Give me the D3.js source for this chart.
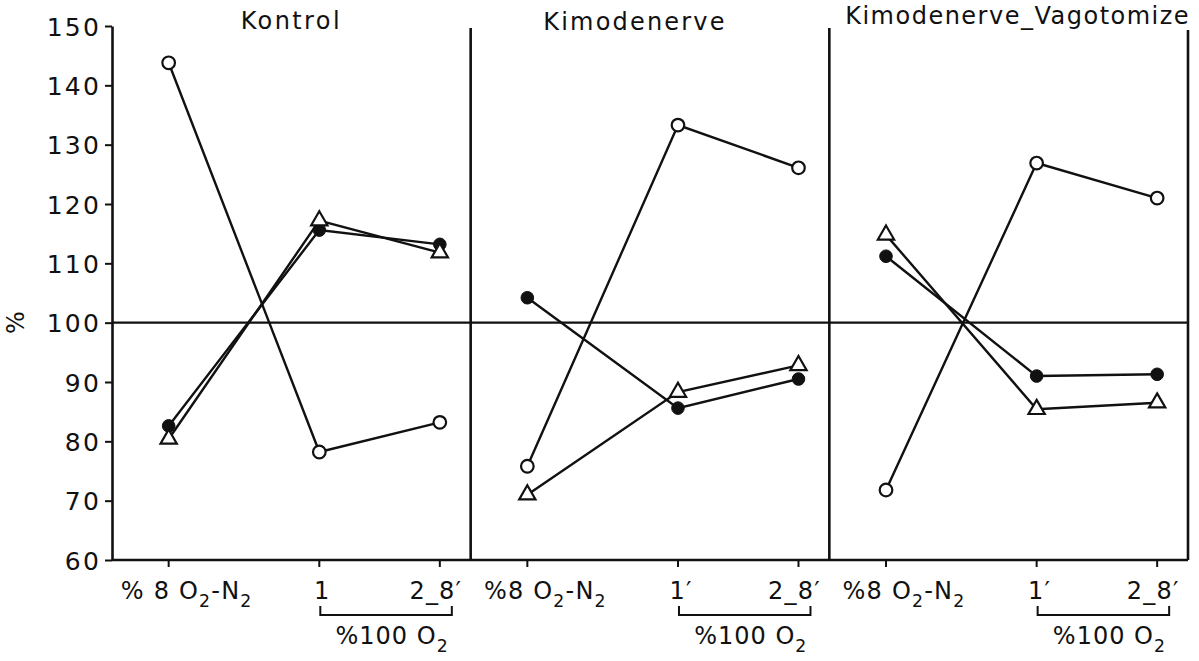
<!DOCTYPE html>
<html><head><meta charset="utf-8">
<script src="https://cdn.jsdelivr.net/npm/d3@7"></script>
<style>body{margin:0;background:#fff}svg{display:block}text{font-family:"DejaVu Sans",sans-serif;fill:#111}</style>
</head><body>
<script>
const panels = ["Kontrol", "Kimodenerve", "Kimodenerve_Vagotomize"];
const categories = ["pre", "t1", "t2"];
const tickLabels = [
  ["% 8 O|2|-N|2", "1", "2_8′"],
  ["%8 O|2|-N|2", "1′", "2_8′"],
  ["%8 O|2|-N|2", "1′", "2_8′"]
];
const bracketLabel = "%100 O|2";
const openCircle   = [[143.8, 78.2, 83.2], [75.8, 133.3, 126.1], [71.8, 126.9, 121.0]];
const filledCircle = [[82.6, 115.6, 113.2], [104.2, 85.6, 90.5], [111.2, 91.0, 91.3]];
const triangle     = [[80.4, 117.2, 111.8], [71.0, 88.3, 92.8], [114.8, 85.4, 86.5]];
const yTicks = [60, 70, 80, 90, 100, 110, 120, 130, 140, 150];
const refValue = 100;

const W = 1199, H = 661;
const svg = d3.select("body").append("svg").attr("width", W).attr("height", H);
const x0 = d3.scaleBand().domain(panels).range([112, 1188]).padding(0);
const xi = d3.scaleOrdinal().domain(categories).range([0.158, 0.578, 0.914]);
const y = d3.scaleLinear().domain([60, 150]).range([560, 26]);
const X = (p, c) => x0(p) + xi(c) * x0.bandwidth();

function richText(sel, str, size) {
  const parts = str.split("|");
  parts.forEach((s, i) => {
    const sub = i % 2 === 1;
    sel.append("tspan").text(s)
      .attr("font-size", sub ? size * 0.72 : size)
      .attr("dy", sub ? size * 0.32 : (i > 0 ? -size * 0.32 : 0));
  });
}

// y axis
const yAxis = d3.axisLeft(y).tickValues(yTicks).tickSize(7).tickSizeOuter(0);
const ga = svg.append("g").attr("transform", "translate(112,0)").call(yAxis);
ga.select(".domain").attr("stroke", "#111").attr("stroke-width", 2.6);
ga.selectAll(".tick line").attr("stroke", "#111").attr("stroke-width", 2);
ga.selectAll(".tick text").attr("font-size", 25).attr("x", -11).attr("fill", "#111")
  .attr("letter-spacing", 2.2).attr("dy", "0.36em")
  .attr("font-family", "DejaVu Sans, sans-serif");

svg.append("text").attr("transform", `translate(24,${y(100)}) rotate(-90)`)
  .attr("text-anchor", "middle").attr("font-size", 24).text("%");

// frame
svg.append("line").attr("x1", 112).attr("x2", 1188).attr("y1", y(60)).attr("y2", y(60))
  .attr("stroke", "#111").attr("stroke-width", 2.6);
svg.append("line").attr("x1", 112).attr("x2", 1188).attr("y1", y(refValue)).attr("y2", y(refValue))
  .attr("stroke", "#111").attr("stroke-width", 2.2);
panels.forEach((p, i) => {
  if (i > 0) svg.append("line").attr("x1", x0(p)).attr("x2", x0(p)).attr("y1", y(150) + 2).attr("y2", y(60))
    .attr("stroke", "#111").attr("stroke-width", 2.6);
});
svg.append("line").attr("x1", 1188).attr("x2", 1188).attr("y1", y(150) + 4).attr("y2", y(60))
  .attr("stroke", "#111").attr("stroke-width", 2.6);

const line = d3.line();
const titleDx = [0, -15, 9], titleY = [29, 30, 24], titleLs = [2.4, 2.2, 1.5];
panels.forEach((p, pi) => {
  const g = svg.append("g");
  const cx = x0(p) + x0.bandwidth() / 2;
  g.append("text").attr("x", cx + titleDx[pi]).attr("y", titleY[pi])
    .attr("text-anchor", "middle").attr("font-size", 24).attr("letter-spacing", titleLs[pi]).text(p);

  // x ticks and labels
  categories.forEach((c, ci) => {
    const xx = X(p, c);
    g.append("line").attr("x1", xx).attr("x2", xx).attr("y1", y(60)).attr("y2", y(60) + 7)
      .attr("stroke", "#111").attr("stroke-width", 2);
    const t = g.append("text").attr("x", ci === 0 ? xx + 18 : ci === 2 ? xx - 4 : xx + 3).attr("y", 599)
      .attr("text-anchor", "middle").attr("letter-spacing", 1.2);
    richText(t, tickLabels[pi][ci], 24);
  });
  // bracket
  const bx1 = X(p, "t1") + 1, bx2 = X(p, "t2") + 12;
  g.append("path").attr("d", `M${bx1},606 V615 H${bx2} V606`).attr("fill", "none")
    .attr("stroke", "#111").attr("stroke-width", 2);
  const bt = g.append("text").attr("x", (bx1 + bx2) / 2 + 6).attr("y", 644).attr("text-anchor", "middle")
    .attr("letter-spacing", 1);
  richText(bt, bracketLabel, 24);

  const series = [openCircle[pi], filledCircle[pi], triangle[pi]];
  series.forEach(vals => {
    g.append("path").attr("d", line(vals.map((v, ci) => [X(p, categories[ci]), y(v)])))
      .attr("fill", "none").attr("stroke", "#111").attr("stroke-width", 2.4);
  });
  openCircle[pi].forEach((v, ci) => g.append("circle").attr("cx", X(p, categories[ci])).attr("cy", y(v)).attr("r", 6.3)
    .attr("fill", "#fff").attr("stroke", "#111").attr("stroke-width", 2.2));
  filledCircle[pi].forEach((v, ci) => g.append("circle").attr("cx", X(p, categories[ci])).attr("cy", y(v)).attr("r", 6.3)
    .attr("fill", "#111").attr("stroke", "#111").attr("stroke-width", 1));
  triangle[pi].forEach((v, ci) => g.append("path").attr("d", d3.symbol(d3.symbolTriangle, 115)())
    .attr("transform", `translate(${X(p, categories[ci])},${y(v)})`)
    .attr("fill", "#fff").attr("stroke", "#111").attr("stroke-width", 2.2));
});
</script>
</body></html>
